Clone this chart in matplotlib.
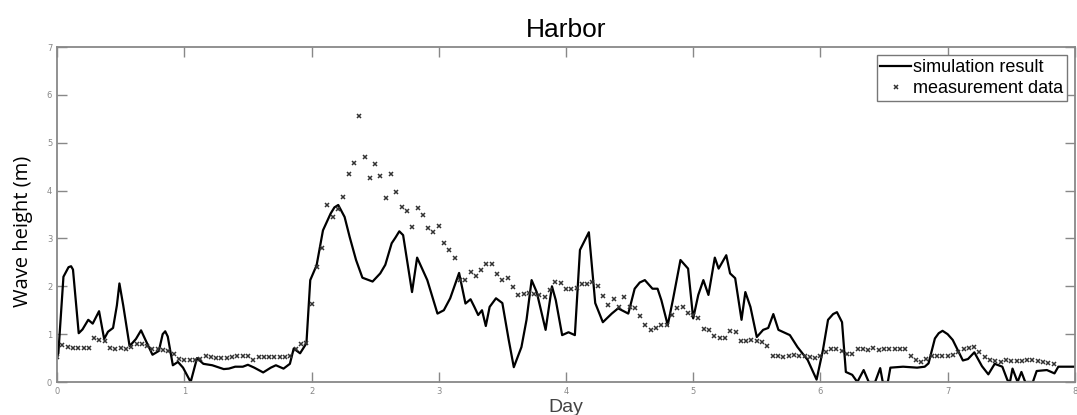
import numpy as np
import matplotlib.pyplot as plt

# simulated wave height (day, m)
sim_day = [0.00, 0.01, 0.05, 0.07, 0.09, 0.11, 0.125, 0.17, 0.20, 0.245, 0.28, 0.33, 0.37, 0.40, 0.44,
           0.47, 0.49, 0.52, 0.57, 0.62, 0.66, 0.70, 0.75, 0.80, 0.83, 0.85, 0.87, 0.91, 0.95, 0.99, 1.05,
           1.10, 1.15, 1.22, 1.31, 1.35, 1.40, 1.46, 1.50, 1.55, 1.62, 1.68, 1.72, 1.78, 1.83,
           1.86, 1.91, 1.96, 1.99, 2.04, 2.09, 2.15, 2.18, 2.21, 2.26, 2.30, 2.35, 2.40, 2.48, 2.54,
           2.58, 2.63, 2.66, 2.69, 2.72, 2.79, 2.83, 2.91, 2.99, 3.04, 3.09, 3.16, 3.21, 3.25, 3.28,
           3.31, 3.34, 3.37, 3.40, 3.45, 3.50, 3.55, 3.59, 3.65, 3.69, 3.73, 3.77, 3.84, 3.89, 3.92,
           3.97, 4.02, 4.07, 4.11, 4.18, 4.23, 4.29, 4.36, 4.41, 4.49, 4.54, 4.58, 4.62, 4.68, 4.72,
           4.75, 4.80, 4.84, 4.90, 4.96, 5.00, 5.04, 5.08, 5.12, 5.17, 5.20, 5.26, 5.29, 5.33, 5.38,
           5.41, 5.45, 5.50, 5.55, 5.59, 5.63, 5.67, 5.76, 5.82, 5.90, 5.97, 6.02, 6.06, 6.10, 6.13,
           6.17, 6.20, 6.25, 6.29, 6.34, 6.38, 6.43, 6.47, 6.49, 6.53, 6.55, 6.65, 6.76, 6.82, 6.85,
           6.90, 6.93, 6.96, 7.00, 7.04, 7.12, 7.16, 7.21, 7.27, 7.32, 7.37, 7.43, 7.47, 7.49, 7.51,
           7.55, 7.58, 7.61, 7.67, 7.70, 7.78, 7.84, 7.87, 8.00]
sim_height = [0.52, 0.60, 2.20, 2.30, 2.40, 2.42, 2.35, 1.02, 1.10, 1.30, 1.22, 1.48, 0.90, 1.05, 1.13,
              1.60, 2.06, 1.60, 0.75, 0.90, 1.08, 0.85, 0.57, 0.65, 1.00, 1.06, 0.95, 0.35, 0.42, 0.30, 0.00,
              0.50, 0.38, 0.35, 0.27, 0.28, 0.32, 0.32, 0.36, 0.30, 0.20, 0.30, 0.35, 0.28, 0.38,
              0.70, 0.60, 0.81, 2.13, 2.44, 3.17, 3.52, 3.65, 3.70, 3.45, 3.03, 2.55, 2.18, 2.10, 2.27,
              2.45, 2.90, 3.02, 3.15, 3.07, 1.88, 2.60, 2.13, 1.43, 1.50, 1.75, 2.28, 1.64, 1.73, 1.57,
              1.40, 1.50, 1.17, 1.57, 1.75, 1.65, 0.88, 0.31, 0.73, 1.30, 2.13, 1.88, 1.09, 2.00, 1.71,
              0.98, 1.04, 0.98, 2.76, 3.13, 1.65, 1.25, 1.43, 1.54, 1.43, 1.95, 2.08, 2.13, 1.95, 1.95,
              1.71, 1.19, 1.71, 2.55, 2.37, 1.33, 1.82, 2.13, 1.82, 2.60, 2.37, 2.65, 2.27, 2.17, 1.30,
              1.88, 1.57, 0.94, 1.09, 1.13, 1.42, 1.09, 0.98, 0.73, 0.46, 0.05, 0.67, 1.30, 1.42, 1.46,
              1.25, 0.21, 0.15, 0.00, 0.25, 0.00, 0.00, 0.29, 0.00, 0.00, 0.30, 0.32, 0.30, 0.32, 0.39,
              0.91, 1.02, 1.07, 1.00, 0.88, 0.45, 0.48, 0.62, 0.33, 0.16, 0.38, 0.32, 0.04, 0.00, 0.28,
              0.00, 0.21, 0.00, 0.00, 0.23, 0.25, 0.18, 0.32, 0.32]

# hourly measured wave height (m)
meas_height = [
    0.52, 0.78, 0.74, 0.71, 0.71, 0.72, 0.72, 0.92, 0.88, 0.85, 0.72, 0.70,
    0.71, 0.69, 0.74, 0.80, 0.79, 0.75, 0.70, 0.68, 0.66, 0.64, 0.58, 0.48,
    0.46, 0.47, 0.47, 0.48, 0.54, 0.52, 0.50, 0.50, 0.51, 0.52, 0.55, 0.55,
    0.55, 0.47, 0.53, 0.52, 0.52, 0.52, 0.52, 0.53, 0.55, 0.68, 0.80, 0.82,
    1.64, 2.40, 2.80, 3.70, 3.45, 3.62, 3.86, 4.34, 4.58, 5.57, 4.70, 4.27,
    4.55, 4.30, 3.84, 4.34, 3.97, 3.66, 3.57, 3.23, 3.63, 3.49, 3.21, 3.13,
    3.26, 2.90, 2.76, 2.60, 2.13, 2.13, 2.30, 2.21, 2.34, 2.46, 2.47, 2.25,
    2.14, 2.18, 1.98, 1.82, 1.83, 1.85, 1.83, 1.82, 1.78, 1.92, 2.09, 2.07,
    1.94, 1.94, 1.96, 2.05, 2.04, 2.10, 2.00, 1.80, 1.61, 1.73, 1.57, 1.77,
    1.57, 1.55, 1.37, 1.19, 1.09, 1.13, 1.20, 1.19, 1.40, 1.54, 1.56, 1.45,
    1.40, 1.33, 1.10, 1.09, 0.96, 0.91, 0.91, 1.06, 1.05, 0.86, 0.86, 0.88,
    0.86, 0.84, 0.75, 0.55, 0.54, 0.53, 0.54, 0.57, 0.54, 0.54, 0.52, 0.50,
    0.55, 0.62, 0.68, 0.70, 0.64, 0.58, 0.58, 0.68, 0.70, 0.66, 0.72, 0.67,
    0.68, 0.70, 0.68, 0.69, 0.68, 0.55, 0.46, 0.42, 0.49, 0.54, 0.54, 0.54,
    0.54, 0.56, 0.63, 0.70, 0.72, 0.73, 0.63, 0.53, 0.46, 0.44, 0.41, 0.46,
    0.44, 0.44, 0.44, 0.46, 0.47, 0.44, 0.41, 0.39, 0.38,
]
meas_day = np.arange(len(meas_height)) / 24.0

fig = plt.figure(figsize=(10.77, 4.15), dpi=100)
ax = fig.add_axes([0.053, 0.0795, 0.945, 0.807])

ax.plot(sim_day, sim_height, color='black', lw=1.6, label='simulation result')
ax.plot(meas_day, meas_height, linestyle='none', marker='x', ms=3, mew=1.1,
        color='#333333', label='measurement data')

ax.set_xlim(0, 8)
ax.set_ylim(0, 7)
ax.set_xticks(range(0, 9))
ax.set_yticks(range(0, 8))
ax.tick_params(direction='in', length=7, width=1, colors='#888888',
               labelsize=6, top=True, right=True, labelcolor='#888888')
for s in ax.spines.values():
    s.set_color('#888888')
    s.set_linewidth(1.3)

ax.set_title('Harbor', fontsize=19, family='Liberation Sans', pad=7)
ax.set_xlabel('Day', fontsize=14, family='Liberation Sans', color='#444444', labelpad=2)
ax.set_ylabel('Wave height (m)', fontsize=14.5, family='Open Sans')
ax.yaxis.set_label_coords(-0.024, 0.45)

leg = ax.legend(loc='upper right', prop={'family': 'Liberation Sans', 'size': 13},
                fancybox=False, framealpha=1, edgecolor='#777777', handlelength=1.7,
                handletextpad=0.1, borderpad=0.2, labelspacing=0.25, borderaxespad=0.45)
leg.get_frame().set_linewidth(1.0)

fig.savefig('out.png', dpi=100)
